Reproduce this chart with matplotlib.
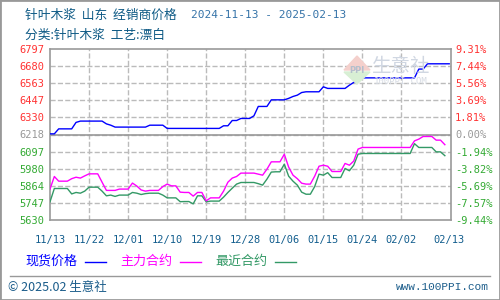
import matplotlib
matplotlib.use("Agg")
import matplotlib.pyplot as plt
from matplotlib.lines import Line2D
from matplotlib.patches import Rectangle, Polygon
import pandas as pd

# spot price (现货价格), daily, 2024-11-13 .. 2025-02-13
spot = [6218, 6218, 6252, 6252, 6252, 6252, 6296, 6305, 6305, 6305,
        6305, 6305, 6305, 6286, 6277, 6264, 6264, 6264, 6264, 6264,
        6264, 6264, 6264, 6277, 6277, 6277, 6277, 6255, 6255, 6255,
        6255, 6255, 6255, 6255, 6255, 6255, 6255, 6255, 6255, 6255,
        6273, 6273, 6309, 6309, 6323, 6323, 6323, 6341, 6405, 6405,
        6405, 6450, 6450, 6450, 6450, 6460, 6473, 6482, 6500, 6505,
        6505, 6505, 6505, 6539, 6528, 6528, 6528, 6528, 6528, 6550,
        6569, 6587, 6600, 6600, 6600, 6600, 6600, 6600, 6600, 6600,
        6600, 6600, 6600, 6600, 6600, 6660, 6660, 6696, 6696, 6696,
        6696, 6696, 6696]

# main contract (主力合约), 2024-11-13 .. 2025-02-12
main_contract = [5841, 5927, 5895, 5895, 5895, 5912, 5922, 5916, 5931, 5945,
                 5945, 5945, 5888, 5832, 5832, 5832, 5841, 5841, 5841, 5882,
                 5862, 5835, 5827, 5832, 5832, 5832, 5858, 5875, 5863, 5863,
                 5820, 5818, 5818, 5793, 5818, 5818, 5761, 5781, 5781, 5781,
                 5827, 5888, 5916, 5927, 5950, 5950, 5950, 5950, 5943, 5936,
                 5977, 6027, 6027, 6027, 6079, 5991, 5936, 5912, 5881, 5875,
                 5875, 5929, 5997, 6004, 5997, 5961, 5961, 5961, 6016, 6004,
                 6032, 6114, 6125, 6125, 6125, 6125, 6125, 6125, 6125, 6125,
                 6125, 6125, 6125, 6125, 6170, 6182, 6200, 6200, 6200, 6175,
                 6175, 6144]

# nearest contract (最近合约)
near_contract = [5754, 5845, 5845, 5845, 5845, 5808, 5818, 5813, 5827, 5854,
                 5854, 5854, 5827, 5795, 5800, 5791, 5800, 5800, 5800, 5818,
                 5813, 5804, 5810, 5813, 5813, 5813, 5800, 5781, 5781, 5781,
                 5755, 5756, 5756, 5740, 5795, 5795, 5754, 5759, 5759, 5759,
                 5786, 5818, 5847, 5875, 5886, 5886, 5886, 5886, 5878, 5868,
                 5909, 5957, 5959, 5959, 6011, 5929, 5895, 5868, 5820, 5806,
                 5806, 5858, 5943, 5936, 5953, 5920, 5920, 5920, 5982, 5966,
                 6004, 6079, 6084, 6084, 6084, 6084, 6084, 6084, 6084, 6084,
                 6084, 6084, 6084, 6084, 6151, 6125, 6125, 6125, 6125, 6095,
                 6095, 6069]

price_labels = ["5630", "5747", "5864", "5980", "6097", "6218",
                "6330", "6447", "6563", "6680", "6797"]
pct_labels = ["-9.44%", "-7.57%", "-5.69%", "-3.82%", "-1.94%", "0.00%",
              "1.81%", "3.69%", "5.56%", "7.44%", "9.31%"]
tick_dates = ["2024-11-13", "2024-11-22", "2024-12-01", "2024-12-10",
              "2024-12-19", "2024-12-28", "2025-01-06", "2025-01-15",
              "2025-01-24", "2025-02-02", "2025-02-13"]
tick_names = ["11/13", "11/22", "12/01", "12/10", "12/19", "12/28",
              "01/06", "01/15", "01/24", "02/02", "02/13"]

CJK = ["Noto Sans CJK SC", "DejaVu Sans"]
MONO = "DejaVu Sans Mono"
RED, GREY, GREEN = "#ff3333", "#999999", "#33aa33"


def px(x, y):
    # pixel position -> figure fraction
    return x / 500, 1 - y / 300


fig = plt.figure(figsize=(5, 3), dpi=100)
fig.patch.set_facecolor("white")

ax = fig.add_axes([50 / 500, 1 - 220 / 300, 401 / 500, 171 / 300])
spot_dates = pd.date_range("2024-11-13", periods=len(spot), freq="D")
fut_dates = pd.date_range("2024-11-13", periods=len(main_contract), freq="D")
xticks = pd.to_datetime(tick_dates)

ymin, ymax = 5630, 6797
ax.set_ylim(ymin, ymax)
ax.set_xlim(pd.Timestamp("2024-11-13"), pd.Timestamp("2025-02-13 10:00"))
yticks = [ymin + i * (ymax - ymin) / 10 for i in range(11)]

ax.set_yticks(yticks)
ax.set_yticklabels(price_labels, fontfamily=MONO, fontsize=7.5)
ax.set_xticks(xticks)
ax.set_xticklabels(tick_names, fontfamily=MONO, fontsize=7.5, color="#135e8e")
ax.tick_params(axis="y", length=0, pad=22)
ax.tick_params(axis="x", length=0, pad=11)
for i, lab in enumerate(ax.get_yticklabels()):
    lab.set_horizontalalignment("left")
    lab.set_color(GREEN if i < 5 else (GREY if i == 5 else RED))

# dashed grid
for yv in yticks[1:-1]:
    ax.plot([0, 1], [yv, yv], transform=ax.get_yaxis_transform(),
            color="#bbbbbb", linestyle="--", linewidth=1.0, zorder=1)
for xv in xticks[1:-1]:
    ax.plot([xv, xv], [0, 1], transform=ax.get_xaxis_transform(),
            color="#bbbbbb", linestyle="--", linewidth=1.0, zorder=1)
ax.axhline(yticks[5], color="#999999", linewidth=1.2, zorder=2)
for s in ax.spines.values():
    s.set_color("#999999")
    s.set_linewidth(1.2)

ax.plot(spot_dates, spot, color="#0000ff", linewidth=1.0, zorder=4)
ax.plot(fut_dates, main_contract, color="#ff00ff", linewidth=1.0, zorder=4)
ax.plot(fut_dates, near_contract, color="#339966", linewidth=1.0, zorder=3)

ax2 = ax.twinx()
ax2.set_ylim(ymin, ymax)
ax2.set_yticks(yticks)
ax2.set_yticklabels(pct_labels, fontfamily=MONO, fontsize=7.5)
ax2.tick_params(axis="y", length=0, pad=3)
for i, lab in enumerate(ax2.get_yticklabels()):
    lab.set_color(GREEN if i < 5 else (GREY if i == 5 else RED))
for s in ax2.spines.values():
    s.set_visible(False)

# watermark
fig.patches.append(Polygon([px(344, 70), px(357, 56), px(370, 70)], closed=True,
                           transform=fig.transFigure, color="#f4d0cc", zorder=1))
fig.patches.append(Polygon([px(344, 72), px(357, 84), px(370, 72)], closed=True,
                           transform=fig.transFigure, color="#d8efd4", zorder=1))
fig.text(*px(357, 70), "PPI", fontsize=6, color="#b4bfcc", ha="center", va="center",
         fontweight="bold")
fig.text(*px(401, 66), "生意社", family=CJK, fontsize=14, color="#d0d7e2",
         ha="center", va="center")
fig.text(*px(401, 81), "100PPI.COM", fontfamily=MONO, fontsize=6.5, color="#d6dbe3",
         ha="center", va="center")

# title
fig.text(*px(25, 15), "针叶木浆  山东  经销商价格", family=CJK, fontsize=9.2,
         color="#0e5a85", va="center")
fig.text(*px(191, 15), "2024-11-13 - 2025-02-13", fontfamily=MONO, fontsize=8,
         color="#3573a8", va="center")
fig.text(*px(25, 35), "分类:针叶木浆  工艺:漂白", family=CJK, fontsize=9.2,
         color="#0e5a85", va="center")

# legend
legend_items = [("现货价格", "#0000ff", 25, 85),
                ("主力合约", "#ff00ff", 120, 180),
                ("最近合约", "#339966", 215, 275)]
for name, col, tx, lx in legend_items:
    fig.text(*px(tx, 261), name, family=CJK, fontsize=9.4, color=col, va="center")
    x0, y0 = px(lx, 262)
    x1, _ = px(lx + 21, 262)
    fig.add_artist(Line2D([x0, x1], [y0, y0], color=col, linewidth=1.0,
                          transform=fig.transFigure))

# footer
xa, ya = px(10, 276)
xb, _ = px(490, 276)
fig.add_artist(Line2D([xa, xb], [ya, ya], color="#999999", linewidth=1,
                      transform=fig.transFigure))
fig.text(*px(8, 287), "© 2025.02 生意社", family=CJK, fontsize=9, color="#1a5c8a",
         va="center")
fig.text(*px(489, 287), "www.100PPI.com", fontfamily="Liberation Mono", fontsize=8,
         color="#1a5c8a", va="center", ha="right")

fig.add_artist(Rectangle((0, 0), 1, 1, transform=fig.transFigure, fill=False,
                         edgecolor="#999999", linewidth=2))

fig.savefig("out.png", dpi=100)
